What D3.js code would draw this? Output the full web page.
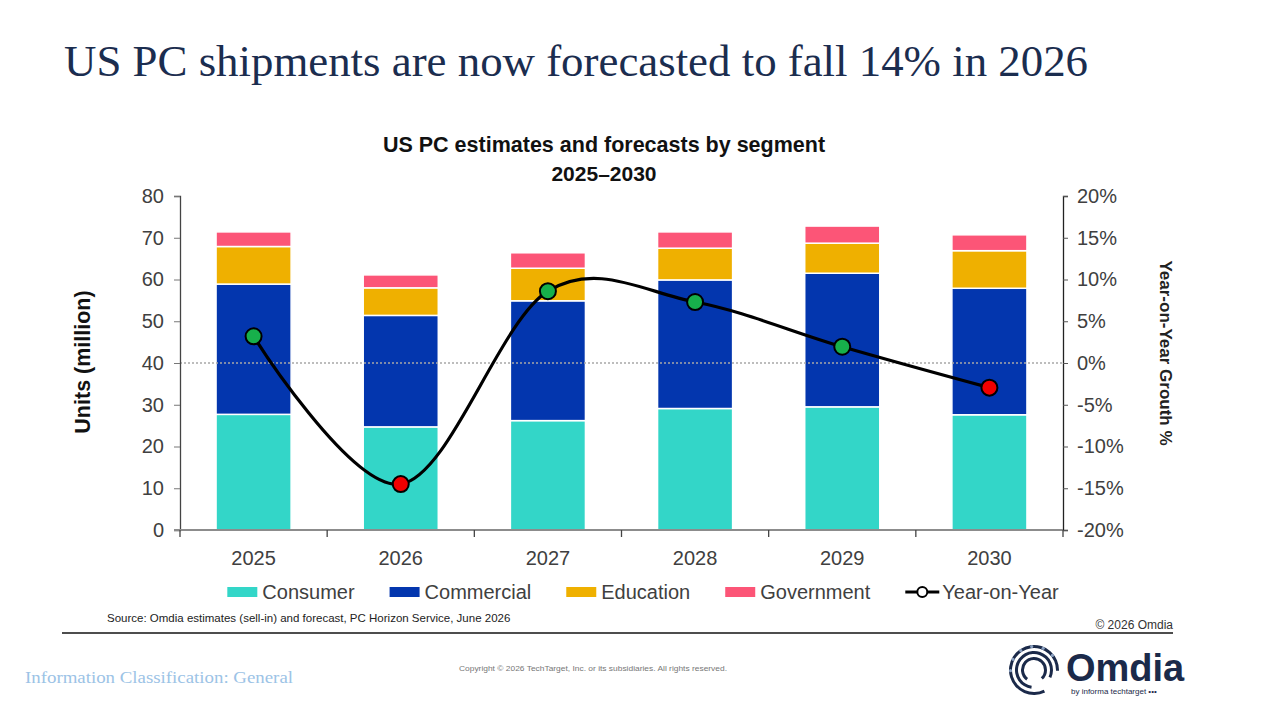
<!DOCTYPE html>
<html>
<head>
<meta charset="utf-8">
<script src="https://cdn.jsdelivr.net/npm/d3@7"></script>
<style>
  body { margin: 0; background: #fff; }
  svg { display: block; }
</style>
</head>
<body>
<div id="chart"></div>
<script>
// data
var years = ["2025", "2026", "2027", "2028", "2029", "2030"];
var consumer = [27.7, 24.7, 26.2, 29.1, 29.5, 27.6];
var commercial = [31.2, 26.7, 28.7, 30.8, 32.0, 30.3];
var education = [9.0, 6.6, 7.8, 7.6, 7.2, 9.0];
var government = [3.5, 3.1, 3.7, 3.9, 4.1, 3.8];
var yoy = [3.2, -14.5, 8.6, 7.3, 1.95, -2.95];
var leftTicks = [0, 10, 20, 30, 40, 50, 60, 70, 80];
var rightTicks = [-20, -15, -10, -5, 0, 5, 10, 15, 20];
var segments = ["Consumer", "Commercial", "Education", "Government"];
var segColors = ["#33d6c8", "#0336ae", "#efb000", "#fc5577"];

var W = 1280, H = 720;
var plot = { left: 180, right: 1063, top: 196, bottom: 530 };

var svg = d3.select("#chart").append("svg")
    .attr("width", W)
    .attr("height", H);

// slide title
svg.append("text")
    .attr("x", 64).attr("y", 76)
    .attr("font-family", "'Liberation Serif', 'DejaVu Serif', serif")
    .attr("font-size", 44)
    .attr("fill", "#1b2d4f")
    .attr("textLength", 1024)
    .attr("lengthAdjust", "spacingAndGlyphs")
    .text("US PC shipments are now forecasted to fall 14% in 2026");

// chart title
svg.append("text")
    .attr("x", 604).attr("y", 152)
    .attr("text-anchor", "middle")
    .attr("font-family", "'Liberation Sans', Arial, sans-serif")
    .attr("font-weight", "bold")
    .attr("font-size", 21.5)
    .attr("fill", "#111")
    .text("US PC estimates and forecasts by segment");
svg.append("text")
    .attr("x", 604).attr("y", 181)
    .attr("text-anchor", "middle")
    .attr("font-family", "'Liberation Sans', Arial, sans-serif")
    .attr("font-weight", "bold")
    .attr("font-size", 21)
    .attr("fill", "#111")
    .text("2025\u20132030");

// scales
var x = d3.scaleBand()
    .domain(years)
    .range([plot.left, plot.right])
    .paddingInner(0.49)
    .paddingOuter(0.245);
var y = d3.scaleLinear().domain([0, 80]).range([plot.bottom, plot.top]);
var y2 = d3.scaleLinear().domain([-20, 20]).range([plot.bottom, plot.top]);

// stack
var rows = years.map(function(yr, i) {
    return { year: yr, Consumer: consumer[i], Commercial: commercial[i], Education: education[i], Government: government[i] };
});
var stacked = d3.stack().keys(segments)(rows);

var bars = svg.append("g");
stacked.forEach(function(layer, k) {
    bars.selectAll(null)
        .data(layer)
        .enter()
        .append("rect")
        .attr("x", function(d) { return x(d.data.year); })
        .attr("y", function(d) { return y(d[1]); })
        .attr("width", x.bandwidth())
        .attr("height", function(d) { return y(d[0]) - y(d[1]); })
        .attr("fill", segColors[k])
        .attr("stroke", "#fff")
        .attr("stroke-width", 1.5);
});

// dotted zero line over the bars
svg.append("line")
    .attr("x1", plot.left).attr("x2", plot.right)
    .attr("y1", y2(0)).attr("y2", y2(0))
    .attr("stroke", "#a8a8a8")
    .attr("stroke-width", 1.5)
    .attr("stroke-dasharray", "2,2");

var font = "'Liberation Sans', Arial, sans-serif";

// left axis
var gl = svg.append("g")
    .attr("transform", "translate(" + plot.left + ",0)")
    .call(d3.axisLeft(y).tickValues(leftTicks).tickSize(6).tickPadding(10));
gl.select(".domain").attr("stroke", "#444").attr("stroke-width", 1.3);
gl.selectAll(".tick line").attr("stroke", "#777");
gl.selectAll(".tick text").attr("font-family", font).attr("font-size", 20).attr("fill", "#404040");

// right axis
var gr = svg.append("g")
    .attr("transform", "translate(" + plot.right + ",0)")
    .call(d3.axisRight(y2).tickValues(rightTicks).tickSize(5).tickPadding(9)
        .tickFormat(function(d) { return d + "%"; }));
gr.select(".domain").attr("stroke", "#222").attr("stroke-width", 1.3);
gr.selectAll(".tick line").attr("stroke", "#555");
gr.selectAll(".tick text").attr("font-family", font).attr("font-size", 20).attr("fill", "#404040");

// bottom axis, ticks between categories
var gb = svg.append("g").attr("transform", "translate(0," + plot.bottom + ")");
gb.append("line")
    .attr("x1", plot.left - 6).attr("x2", plot.right)
    .attr("stroke", "#8c8c8c").attr("stroke-width", 2);
var bounds = d3.range(years.length + 1).map(function(i) { return plot.left + i * x.step(); });
gb.selectAll(".bt").data(bounds).enter().append("line")
    .attr("x1", function(d) { return d; }).attr("x2", function(d) { return d; })
    .attr("y1", 0).attr("y2", 7)
    .attr("stroke", "#444").attr("stroke-width", 1.3);
gb.selectAll(".yl").data(years).enter().append("text")
    .attr("x", function(d) { return x(d) + x.bandwidth() / 2; })
    .attr("y", 35)
    .attr("text-anchor", "middle")
    .attr("font-family", font).attr("font-size", 20).attr("fill", "#404040")
    .text(function(d) { return d; });

// axis titles
svg.append("text")
    .attr("transform", "translate(90,362) rotate(-90)")
    .attr("text-anchor", "middle")
    .attr("font-family", font).attr("font-weight", "bold").attr("font-size", 21.5)
    .attr("fill", "#111")
    .text("Units (million)");
svg.append("text")
    .attr("transform", "translate(1160,353) rotate(90)")
    .attr("text-anchor", "middle")
    .attr("font-family", font).attr("font-weight", "bold").attr("font-size", 17)
    .attr("fill", "#222")
    .text("Year-on-Year Grouth %");

// YoY smooth line
var pts = years.map(function(yr, i) { return [x(yr) + x.bandwidth() / 2, y2(yoy[i])]; });
svg.append("path")
    .attr("d", d3.line().curve(d3.curveCardinal.tension(0))(pts))
    .attr("fill", "none")
    .attr("stroke", "#000")
    .attr("stroke-width", 3.2);
svg.selectAll(".dot").data(yoy).enter().append("circle")
    .attr("cx", function(d, i) { return pts[i][0]; })
    .attr("cy", function(d, i) { return pts[i][1]; })
    .attr("r", 8)
    .attr("fill", function(d) { return d >= 0 ? "#17b04b" : "#f20000"; })
    .attr("stroke", "#000")
    .attr("stroke-width", 2);

// legend
var legend = svg.append("g").attr("transform", "translate(0,592)");
var items = segments.concat(["Year-on-Year"]);
var cx = 0, gap = 35;
var nodes = [];
items.forEach(function(name, i) {
    var g = legend.append("g");
    if (i < segments.length) {
        g.append("rect").attr("x", 0).attr("y", -5).attr("width", 30).attr("height", 10)
            .attr("fill", segColors[i]);
    } else {
        g.append("line").attr("x1", 0).attr("x2", 34).attr("y1", 0).attr("y2", 0)
            .attr("stroke", "#000").attr("stroke-width", 3);
        g.append("circle").attr("cx", 17).attr("cy", 0).attr("r", 5)
            .attr("fill", "#fff").attr("stroke", "#000").attr("stroke-width", 2);
    }
    var t = g.append("text")
        .attr("x", i < segments.length ? 35 : 37).attr("y", 7)
        .attr("font-family", font).attr("font-size", 20).attr("fill", "#404040")
        .text(name);
    var w = (i < segments.length ? 35 : 37) + t.node().getComputedTextLength();
    nodes.push({ g: g, x: cx });
    cx += w + gap;
});
var total = cx - gap;
var startX = 643 - total / 2;
nodes.forEach(function(n) { n.g.attr("transform", "translate(" + (startX + n.x) + ",0)"); });

// source and rule
svg.append("text")
    .attr("x", 107).attr("y", 622)
    .attr("font-family", font).attr("font-size", 11.5).attr("fill", "#222")
    .text("Source: Omdia estimates (sell-in) and forecast, PC Horizon Service, June 2026");
svg.append("text")
    .attr("x", 1173).attr("y", 629)
    .attr("text-anchor", "end")
    .attr("font-family", font).attr("font-size", 12).attr("fill", "#333")
    .text("\u00a9 2026 Omdia");
svg.append("line")
    .attr("x1", 62).attr("x2", 1173)
    .attr("y1", 633).attr("y2", 633)
    .attr("stroke", "#4d4d4d").attr("stroke-width", 2);

// footer
svg.append("text")
    .attr("x", 25).attr("y", 683)
    .attr("font-family", "'Liberation Serif', 'DejaVu Serif', serif")
    .attr("font-size", 16.5).attr("fill", "#9cc3e6")
    .attr("textLength", 268)
    .attr("lengthAdjust", "spacingAndGlyphs")
    .text("Information Classification: General");
svg.append("text")
    .attr("x", 593).attr("y", 671)
    .attr("text-anchor", "middle")
    .attr("font-family", font).attr("font-size", 7.5).attr("fill", "#777")
    .attr("textLength", 268)
    .attr("lengthAdjust", "spacingAndGlyphs")
    .text("Copyright \u00a9 2026 TechTarget, Inc. or its subsidiaries. All rights reserved.");

// Omdia logo
var logo = svg.append("g").attr("transform", "translate(1034,670)");
var navy = "#1b2a4a";
var arc = d3.arc();
[[22, 25, -3.6, 1.6], [16, 19, -3.0, 2.0], [10, 13, -2.5, 2.4]].forEach(function(a) {
    logo.append("path")
        .attr("d", arc({ innerRadius: a[0], outerRadius: a[1], startAngle: a[2], endAngle: a[3] }))
        .attr("fill", navy);
});
d3.range(6).forEach(function(i) {
    var ang = -1.6 + i * 0.5;
    logo.append("circle")
        .attr("cx", Math.sin(ang) * 23.5).attr("cy", -Math.cos(ang) * 23.5)
        .attr("r", 1.6).attr("fill", "#8aa0c0");
});
svg.append("text")
    .attr("x", 1066).attr("y", 681)
    .attr("font-family", font).attr("font-weight", "bold").attr("font-size", 38)
    .attr("fill", navy)
    .text("Omdia");
svg.append("text")
    .attr("x", 1071).attr("y", 694)
    .attr("font-family", font).attr("font-size", 8).attr("fill", navy)
    .text("by informa techtarget \u2022\u2022\u2022");
</script>
</body>
</html>
